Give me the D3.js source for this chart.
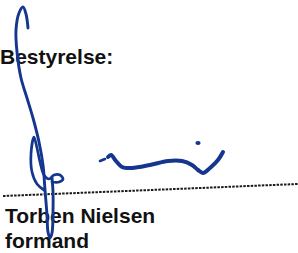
<!DOCTYPE html>
<html>
<head>
<meta charset="utf-8">
<script src="https://cdn.jsdelivr.net/npm/d3@7"></script>
<style>
  body { margin: 0; background: #fff; }
  svg { display: block; }
</style>
</head>
<body>
<div class="render"></div>
<script>
// Text lines on the scanned page
var labels = ["Bestyrelse:", "Torben Nielsen", "formand"];
var labelPos = [[0, 64], [5, 223], [5, 248]];

// Dotted signature line, end points
var dotLine = [[3, 196], [298, 184]];

// Ink strokes of the signature
var strokeTall = [[28,28],[26,14],[23,7],[19,13],[16,30],[17,52],[21,78],[27,98],[33,118],[39,142],[43,165],[45,190],[47,215],[48,232],[50,238],[52,233],[53,212],[53,192],[52,178]];
var strokeLoop = [[44,190],[37,184],[32,172],[31,154],[34,137],[37,148],[40,162],[44,175],[49,179],[54,175],[60,175],[63,179],[59,182],[52,182]];
var strokeWave = [[108,157],[111,155],[116,161],[122,167],[132,168],[150,165],[168,161],[182,161],[192,165],[198,170],[203,173],[210,168],[218,160],[223,152]];
var strokeDash = [[100,161],[105,159]];
var dots = [[198,143]];

var svg = d3.select(".render").append("svg")
    .attr("width", 298)
    .attr("height", 253);

svg.append("rect").attr("width", 298).attr("height", 253).attr("fill", "#fff");

svg.append("line")
    .attr("x1", dotLine[0][0]).attr("y1", dotLine[0][1])
    .attr("x2", dotLine[1][0]).attr("y2", dotLine[1][1])
    .attr("stroke", "#1a1a1a")
    .attr("stroke-width", 2)
    .attr("stroke-dasharray", "2.5,1.2");

svg.selectAll("text.label").data(labels).enter().append("text")
    .attr("class", "label")
    .attr("x", function(d, i) { return labelPos[i][0]; })
    .attr("y", function(d, i) { return labelPos[i][1]; })
    .attr("font-family", "Liberation Sans, Arial, sans-serif")
    .attr("font-weight", "bold")
    .attr("font-size", 21)
    .attr("fill", "#111")
    .text(function(d) { return d; });

var line = d3.line().curve(d3.curveCatmullRom.alpha(0.5));
var ink = svg.append("g")
    .attr("fill", "none")
    .attr("stroke", "#15368f")
    .attr("stroke-linecap", "round")
    .attr("stroke-linejoin", "round");

ink.append("path").attr("d", line(strokeTall)).attr("stroke-width", 2.9);
ink.append("path").attr("d", line(strokeLoop)).attr("stroke-width", 2.7);
ink.append("path").attr("d", line(strokeWave)).attr("stroke-width", 4);
ink.append("path").attr("d", line(strokeDash)).attr("stroke-width", 2.6);

ink.selectAll("ellipse").data(dots).enter().append("ellipse")
    .attr("cx", function(d) { return d[0]; })
    .attr("cy", function(d) { return d[1]; })
    .attr("rx", 2.6).attr("ry", 2.1)
    .attr("fill", "#15368f").attr("stroke", "none");
</script>
</body>
</html>
